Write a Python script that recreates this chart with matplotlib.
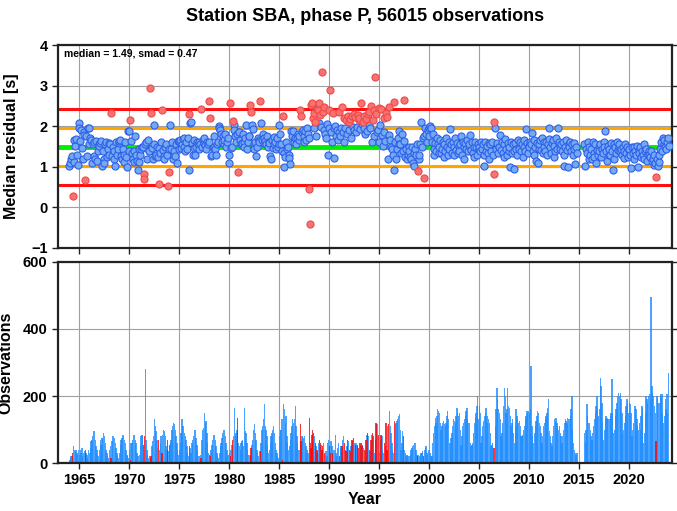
import numpy as np
import matplotlib.pyplot as plt

nan = float('nan')
first_year = 1964
n_years = 60

# monthly median residuals [s], one row per year (Jan..Dec)
resid = [
    1.03, 1.10, 1.18, 1.26, 0.28, 1.67, 1.12, 1.52, 1.68, 1.30, 1.05, 2.09,  # 1964
    1.96, 1.63, 1.90, 1.47, 1.18, 1.85, 1.79, 0.68, 1.75, 1.26, 1.95, 1.55,  # 1965
    1.96, 1.71, 1.67, 1.10, 1.55, 1.26, 1.62, 1.20, 1.63, 1.15, 1.40, 1.55,  # 1966
    1.52, 1.58, 1.63, 1.03, 1.40, 1.18, 1.10, 1.55, 1.60, 1.25, 1.45, 1.30,  # 1967
    1.58, 1.55, 2.33, 1.26, 1.50, 1.18, 1.40, 1.03, 1.60, 1.30, 1.45, 1.58,  # 1968
    1.63, 1.67, 1.26, 1.18, 1.45, 1.11, 1.30, 1.60, 1.25, 1.00, 1.88, 1.40,  # 1969
    1.88, 2.16, 1.63, 1.34, 1.18, 1.11, 1.40, 1.77, 1.28, 1.15, 0.93, 1.45,  # 1970
    1.12, 1.30, 1.43, 1.50, 1.49, 0.82, 0.70, 1.55, 1.60, 1.20, 1.67, 1.40,  # 1971
    1.40, 2.95, 2.33, 1.47, 1.18, 1.55, 2.02, 1.26, 1.30, 1.50, 1.25, 0.58,  # 1972
    1.47, 1.35, 1.60, 2.41, 1.42, 1.26, 1.18, 1.50, 1.55, 1.30, 0.52, 1.45,  # 1973
    0.87, 2.04, 1.43, 1.60, 1.18, 1.30, 1.40, 1.26, 1.55, 1.10, 1.63, 1.45,  # 1974
    1.63, 1.67, 1.47, 1.55, 1.69, 1.71, 1.50, 1.40, 1.60, 1.45, 1.70, 0.92,  # 1975
    2.29, 2.08, 2.10, 1.58, 1.30, 1.47, 1.67, 1.29, 1.50, 1.60, 1.55, 1.45,  # 1976
    1.60, 1.55, 2.43, 1.50, 1.67, 1.58, 1.71, 1.53, 1.45, 1.62, 1.55, 1.60,  # 1977
    2.61, 2.20, 1.26, 1.30, 1.47, 1.50, 1.75, 1.45, 1.28, 1.55, 1.60, 2.00,  # 1978
    1.96, 1.90, 1.80, 1.60, 1.75, 1.55, 1.65, 1.80, 1.50, 1.62, 1.72, 1.10,  # 1979
    1.30, 2.56, 1.47, 1.50, 2.12, 2.04, 1.90, 1.75, 1.60, 1.82, 0.87, 1.85,  # 1980
    1.85, 1.67, 1.55, 1.58, 1.80, 1.62, 1.50, 1.72, 2.04, 1.45, 1.60, 1.75,  # 1981
    1.75, 2.52, 2.34, 2.04, 1.92, 1.55, 1.43, 1.60, 1.26, 1.48, 1.70, 1.65,  # 1982
    1.60, 2.63, 2.08, 1.67, 1.80, 1.58, 1.71, 1.63, 1.55, 1.75, 1.50, 1.62,  # 1983
    1.58, 1.26, 1.20, 1.67, 1.47, 1.73, 1.55, 1.62, 1.45, 1.70, 1.50, 1.55,  # 1984
    2.02, 1.80, 1.55, 1.39, 2.24, 0.99, 1.34, 1.25, 1.60, 1.45, 1.50, 1.30,  # 1985
    1.22, 1.08, 1.88, 1.75, 1.88, 1.67, 1.60, 1.70, 1.55, 1.72, 1.82, 1.65,  # 1986
    1.75, 2.41, 2.26, 1.85, 1.90, 1.60, 1.75, 1.88, 1.65, 1.95, 1.80, 1.70,  # 1987
    0.45, -0.42, 2.53, 2.57, 2.20, 2.33, 1.95, 2.10, 1.75, 2.43, 2.40, 2.08,  # 1988
    2.57, 2.28, 1.98, 3.34, 2.35, 1.90, 2.47, 1.80, 1.72, 2.05, 1.30, 1.95,  # 1989
    2.40, 2.90, 1.85, 1.60, 2.33, 1.95, 1.22, 2.00, 1.75, 1.90, 1.65, 1.85,  # 1990
    2.36, 1.75, 1.95, 2.48, 1.85, 1.62, 2.20, 1.95, 2.15, 1.80, 2.25, 1.90,  # 1991
    2.10, 2.18, 1.70, 2.25, 1.98, 2.30, 1.90, 2.22, 1.85, 1.98, 2.28, 2.15,  # 1992
    2.20, 1.92, 2.57, 2.05, 2.10, 1.95, 2.25, 1.80, 2.18, 1.88, 2.30, 2.02,  # 1993
    2.35, 1.95, 2.50, 1.60, 2.15, 2.40, 1.75, 3.20, 2.30, 1.85, 1.90, 2.45,  # 1994
    1.62, 2.04, 2.42, 1.79, 1.52, 1.85, 2.20, 1.63, 2.33, 2.23, 1.18, 2.47,  # 1995
    1.79, 1.66, 1.50, 1.43, 1.30, 0.93, 2.59, 1.60, 1.18, 1.45, 1.70, 1.55,  # 1996
    1.87, 1.55, 1.35, 1.82, 1.40, 2.64, 1.63, 1.25, 1.45, 1.18, 1.30, 1.50,  # 1997
    1.40, 1.25, 1.18, 1.50, 1.10, 1.35, 1.02, 1.45, 1.28, 1.55, 0.89, 1.20,  # 1998
    1.30, 1.55, 2.10, 1.50, 1.70, 0.73, 1.75, 1.95, 1.80, 1.62, 1.90, 1.96,  # 1999
    1.75, 2.00, 1.96, 1.60, 1.80, 1.45, 1.30, 1.59, 1.40, 1.70, 1.55, 1.35,  # 2000
    1.50, 1.65, 1.35, 1.45, 1.60, 1.25, 1.55, 1.40, 1.70, 1.48, 1.30, 1.60,  # 2001
    1.45, 1.92, 1.55, 1.35, 1.62, 1.50, 1.28, 1.70, 1.42, 1.58, 1.35, 1.52,  # 2002
    1.40, 1.55, 1.75, 1.30, 1.62, 1.48, 1.20, 1.58, 1.45, 1.65, 1.38, 1.52,  # 2003
    1.55, 1.79, 1.42, 1.60, 1.35, 1.50, 1.25, 1.62, 1.48, 1.30, 1.55, 1.45,  # 2004
    1.50, 1.38, 1.62, 1.45, 1.55, 1.28, 1.03, 1.60, 1.40, 1.52, 1.35, 1.58,  # 2005
    1.18, 1.55, 1.40, 1.62, 1.30, 2.11, 0.83, 1.96, 1.45, 1.58, 1.35, 1.50,  # 2006
    1.50, 1.79, 1.42, 1.60, 1.35, 1.55, 1.25, 1.68, 1.45, 1.30, 1.58, 1.40,  # 2007
    1.50, 0.99, 1.62, 1.35, 1.55, 1.40, 0.95, 1.58, 1.45, 1.30, 1.65, 1.48,  # 2008
    1.45, 1.60, 1.38, 1.55, 1.25, 1.65, 1.50, 1.40, 1.94, 1.58, 1.35, 1.52,  # 2009
    1.48, 1.62, 1.55, 1.83, 1.40, 1.65, 1.30, 1.50, 1.14, 1.58, 1.10, 1.45,  # 2010
    1.55, 1.65, 1.42, 1.70, 1.35, 1.60, 1.50, 1.40, 1.62, 1.28, 1.55, 1.68,  # 2011
    1.96, 1.48, 1.35, 1.58, 1.65, 1.25, 1.52, 1.40, 1.70, 1.45, 1.95, 1.55,  # 2012
    1.60, 1.45, 1.55, 1.38, 1.62, 1.30, 1.01, 1.50, 1.65, 1.42, 1.00, 1.55,  # 2013
    1.50, 1.62, 1.40, 1.55, 1.30, 1.45, 1.58, 1.08, 1.48, 1.35, nan, nan,    # 2014
    nan, nan, nan, nan, nan, nan, 1.55, 1.01, 1.45, 1.35, 1.60, 1.20,        # 2015
    1.50, 1.30, 1.45, 1.18, 1.62, 1.35, 1.25, 1.55, 1.10, 1.42, 1.30, 1.48,  # 2016
    1.40, 1.55, 1.25, 1.45, 1.35, 1.60, 1.50, 1.88, 1.38, 1.15, 1.52, 1.28,  # 2017
    1.45, 1.30, 1.58, 1.40, 0.92, 1.55, 1.20, 1.48, 1.35, 1.62, 1.42, 1.50,  # 2018
    1.55, 1.38, 1.45, 1.30, 1.50, 1.22, 1.40, 1.55, 1.35, 1.48, 1.25, 1.42,  # 2019
    1.45, 1.30, 0.97, 1.50, 1.35, 1.20, 1.48, 1.38, 1.28, 1.52, 1.00, 1.42,  # 2020
    1.35, 1.48, 1.25, 1.40, 1.30, 1.55, 1.20, 1.38, 1.45, 1.15, 1.32, 1.40,  # 2021
    1.30, 1.25, 1.38, 1.15, 1.20, 1.05, 1.28, 1.10, 0.74, 1.18, 1.02, 1.12,  # 2022
    1.30, 1.45, 1.60, 1.40, 1.72, 1.55, 1.65, 1.50, 1.45, 1.60, 1.72, 1.52,  # 2023
]

# monthly number of observations
nobs = [
    8, 15, 20, 20, 30, 50, 40, 35, 38, 30, 25, 40,          # 1964
    25, 40, 30, 45, 20, 30, 35, 40, 30, 25, 15, 40,         # 1965
    30, 45, 65, 70, 80, 95, 95, 70, 50, 40, 25, 20,         # 1966
    40, 70, 55, 75, 75, 90, 80, 60, 40, 30, 20, 15,         # 1967
    40, 50, 15, 65, 80, 80, 75, 60, 45, 30, 20, 15,         # 1968
    30, 55, 70, 75, 85, 85, 70, 60, 40, 25, 20, 15,         # 1969
    40, 10, 60, 60, 70, 85, 85, 70, 60, 30, 20, 20,         # 1970
    25, 50, 80, 85, 85, 55, 80, 280, 70, 40, 25, 15,        # 1971
    20, 15, 20, 50, 65, 80, 130, 110, 95, 70, 45, 68,       # 1972
    40, 60, 80, 30, 85, 100, 95, 80, 50, 40, 68, 35,        # 1973
    55, 60, 70, 100, 110, 120, 115, 100, 80, 60, 40, 25,    # 1974
    40, 60, 90, 130, 110, 110, 90, 80, 70, 50, 30, 20,      # 1975
    50, 45, 30, 60, 70, 80, 100, 100, 75, 55, 40, 20,       # 1976
    20, 25, 15, 70, 100, 105, 150, 120, 125, 90, 60, 30,    # 1977
    25, 22, 40, 55, 70, 85, 85, 70, 50, 30, 20, 15,         # 1978
    30, 50, 60, 75, 90, 100, 100, 80, 60, 40, 25, 25,       # 1979
    30, 20, 40, 55, 70, 80, 165, 80, 90, 100, 133, 60,      # 1980
    50, 40, 60, 65, 70, 50, 163, 95, 90, 60, 40, 25,        # 1981
    25, 20, 45, 55, 70, 100, 115, 90, 70, 40, 30, 20,       # 1982
    35, 35, 60, 100, 110, 130, 175, 110, 100, 80, 50, 30,   # 1983
    40, 60, 80, 90, 100, 110, 90, 60, 40, 30, 20, 15,       # 1984
    80, 100, 100, 130, 8, 175, 160, 120, 140, 80, 60, 40,   # 1985
    50, 70, 90, 110, 130, 120, 130, 170, 110, 80, 60, 40,   # 1986
    40, 115, 65, 80, 80, 75, 80, 60, 50, 40, 30, 30,        # 1987
    135, 60, 45, 85, 100, 90, 80, 60, 50, 40, 30, 60,       # 1988
    70, 60, 55, 40, 50, 60, 30, 25, 35, 20, 60, 70,         # 1989
    50, 30, 65, 50, 30, 40, 40, 85, 30, 20, 45, 60,         # 1990
    20, 45, 50, 50, 70, 80, 60, 40, 35, 50, 70, 65,         # 1991
    40, 35, 50, 70, 65, 75, 60, 55, 60, 50, 55, 45,         # 1992
    60, 55, 60, 50, 55, 45, 40, 35, 70, 85, 90, 80,         # 1993
    40, 35, 70, 85, 90, 80, 30, 70, 120, 115, 80, 85,       # 1994
    30, 70, 85, 80, 40, 30, 60, 50, 118, 40, 110, 115,      # 1995
    155, 110, 90, 60, 40, 30, 125, 115, 120, 125, 130, 140, # 1996
    145, 100, 40, 60, 95, 80, 40, 30, 20, 25, 20, 20,       # 1997
    20, 25, 40, 45, 50, 55, 60, 60, 40, 25, 20, 25,         # 1998
    20, 25, 30, 30, 35, 20, 40, 45, 50, 30, 25, 40,         # 1999
    40, 30, 20, 20, 60, 90, 110, 135, 120, 140, 160, 155,   # 2000
    150, 120, 100, 110, 120, 125, 115, 110, 120, 140, 155, 130,  # 2001
    60, 60, 75, 90, 110, 130, 125, 120, 140, 165, 150, 140,      # 2002
    150, 100, 55, 80, 110, 120, 130, 140, 155, 165, 130, 120,    # 2003
    120, 60, 50, 55, 60, 90, 120, 135, 150, 170, 200, 130,       # 2004
    170, 150, 60, 80, 110, 125, 140, 150, 165, 140, 120, 130,    # 2005
    120, 90, 50, 55, 60, 45, 45, 110, 160, 225, 190, 160,        # 2006
    150, 130, 80, 90, 120, 170, 225, 200, 150, 160, 225, 170,    # 2007
    165, 140, 110, 120, 130, 90, 60, 110, 160, 140, 130, 120,    # 2008
    125, 110, 80, 80, 85, 100, 110, 130, 140, 155, 150, 155,     # 2009
    150, 160, 290, 110, 80, 60, 90, 110, 125, 140, 155, 150,     # 2010
    120, 110, 90, 60, 80, 110, 120, 130, 140, 150, 165, 190,     # 2011
    95, 80, 60, 50, 80, 110, 130, 125, 135, 120, 110, 100,       # 2012
    110, 90, 80, 60, 80, 100, 120, 130, 125, 120, 135, 130,      # 2013
    130, 140, 160, 200, 100, 60, 40, 30, 25, 30, 0, 0,           # 2014
    0, 0, 0, 0, 0, 0, 90, 60, 100, 175, 140, 120,                # 2015
    120, 100, 80, 70, 90, 110, 130, 150, 170, 200, 160, 140,     # 2016
    160, 255, 230, 180, 120, 70, 100, 130, 140, 130, 135, 130,   # 2017
    130, 140, 150, 250, 150, 90, 100, 140, 160, 180, 200, 210,   # 2018
    200, 210, 190, 150, 90, 100, 120, 140, 170, 190, 180, 150,   # 2019
    180, 175, 150, 80, 100, 120, 170, 170, 160, 130, 110, 100,   # 2020
    120, 100, 140, 170, 165, 60, 90, 150, 200, 190, 180, 200,    # 2021
    205, 190, 495, 230, 210, 200, 170, 150, 65, 200, 190, 180,   # 2022
    180, 205, 200, 205, 150, 120, 140, 190, 160, 205, 150, 270,  # 2023
]

# months flagged as outliers (drawn red)
red_months = [
    "1964-05", "1965-08", "1968-03", "1970-02", "1971-06", "1971-07",
    "1972-02", "1972-03", "1972-12", "1973-04", "1973-11", "1974-01",
    "1976-01", "1977-03", "1978-01", "1978-02", "1980-02", "1980-05",
    "1980-11", "1982-02", "1982-03", "1983-02", "1985-05", "1987-02",
    "1987-03", "1988-01", "1988-02", "1988-03", "1988-04", "1988-05",
    "1988-06", "1988-08", "1988-10", "1988-11", "1989-01", "1989-02",
    "1989-04", "1989-05", "1989-07", "1990-01", "1990-02", "1990-05",
    "1991-01", "1991-04", "1991-07", "1991-09", "1991-11", "1992-01",
    "1992-02", "1992-04", "1992-06", "1992-08", "1992-11", "1992-12",
    "1993-01", "1993-03", "1993-05", "1993-07", "1993-09", "1993-11",
    "1994-01", "1994-03", "1994-05", "1994-06", "1994-08", "1994-09",
    "1994-12", "1995-03", "1995-07", "1995-09", "1995-10", "1995-12",
    "1996-07", "1997-06", "1998-11", "1999-06", "2006-06", "2006-07",
    "2022-09",
]

median = 1.49
smad = 0.47
n_total = 56015

resid = np.array(resid)
nobs = np.array(nobs)
t = first_year + (np.arange(len(resid)) + 0.5) / 12
idx = [(int(s[:4]) - first_year) * 12 + int(s[5:]) - 1 for s in red_months]
red = np.zeros(len(resid), bool)
red[idx] = True

plt.rcParams['font.family'] = ['Liberation Sans', 'DejaVu Sans']
plt.rcParams['font.weight'] = 'bold'

fig = plt.figure(figsize=(6.77, 5.11), dpi=100)
ax1 = fig.add_axes([0.0857, 0.5147, 0.9069, 0.3972])
ax2 = fig.add_axes([0.0857, 0.0939, 0.9069, 0.3934])

xlim = (1962.9, 2024.3)
for ax in (ax1, ax2):
    ax.set_xlim(*xlim)
    ax.set_xticks(range(1965, 2021, 5))
    ax.grid(True, color='#a0a0a0', lw=0.8)
    ax.set_axisbelow(True)
    for s in ax.spines.values():
        s.set_linewidth(1.6)
        s.set_color('#222222')
    ax.tick_params(direction='out', length=4, width=1, labelsize=10.5,
                   right=True, colors='#222222', labelcolor='black')

# top panel
ax1.set_ylim(-1, 4)
ax1.set_yticks(range(-1, 5))
ax1.tick_params(labelbottom=False)
ax1.axhline(median + 2 * smad, color='#ff1010', lw=2.2, zorder=1.5)
ax1.axhline(median - 2 * smad, color='#ff1010', lw=2.2, zorder=1.5)
ax1.axhline(median + smad, color='#ffa500', lw=2.2, zorder=1.5)
ax1.axhline(median - smad, color='#ffa500', lw=2.2, zorder=1.5)
ax1.axhline(median, color='#00ee00', lw=3.5, zorder=1.5)
ok = ~np.isnan(resid)
ax1.scatter(t[ok & ~red], resid[ok & ~red], s=26, c='#72a9f2',
            edgecolors='#2f5fe8', linewidths=0.8, zorder=3)
ax1.scatter(t[ok & red], resid[ok & red], s=26, c='#f87272',
            edgecolors='#f04848', linewidths=0.8, zorder=3)
ax1.text(0.01, 0.985, f'median = {median:.2f}, smad = {smad:.2f}',
         transform=ax1.transAxes, ha='left', va='top', fontsize=7.5,
         fontweight='bold')
ax1.set_ylabel('Median residual [s]', fontsize=11.5, fontweight='bold')
ax1.yaxis.set_label_coords(-0.063, 0.5)

# bottom panel
w = 1.7 / 12
ax2.bar(t[~red], nobs[~red], width=w, color='#1e8cff', alpha=0.8, lw=0,
        zorder=2)
ax2.bar(t[red], nobs[red], width=w, color='#ff0000', alpha=0.8, lw=0,
        zorder=2.5)
ax2.set_ylim(0, 600)
ax2.set_yticks([0, 200, 400, 600])
ax2.set_ylabel('Observations', fontsize=11.5, fontweight='bold')
ax2.yaxis.set_label_coords(-0.072, 0.5)
ax2.set_xlabel('Year', fontsize=11.5, fontweight='bold', labelpad=3)

fig.suptitle(f'Station SBA, phase P, {n_total} observations', x=0.539,
             y=0.985, fontsize=13, fontweight='bold')

fig.savefig('out.png', dpi=100)
